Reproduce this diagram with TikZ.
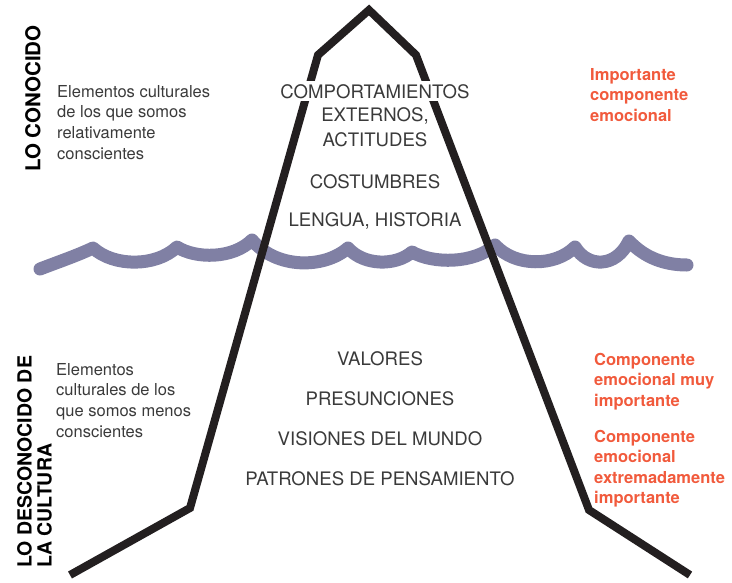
\documentclass[tikz,border=0pt]{standalone}
\usepackage{fontspec}
\setmainfont{TeX Gyre Heros}
\usepackage[svgnames]{xcolor}
\usepackage{tikz}
\usetikzlibrary{positioning}
\definecolor{Hielo}{HTML}{231F20}
\definecolor{Agua}{HTML}{8080A4}
\definecolor{Emocion}{HTML}{F15A3C}
\definecolor{Texto}{HTML}{3A3A3A}

\begin{document}
\begin{tikzpicture}[line join=miter,x=1pt,y=-1pt,
  capa/.style={text=Texto,font=\fontsize{18.6}{24.5}\selectfont,align=center,inner sep=0pt},
  nota/.style={text=Texto,font=\fontsize{16.5}{20.7}\selectfont,align=left,anchor=north west,inner sep=0pt},
  emocion/.style={text=Emocion,font=\bfseries\fontsize{16.5}{20.5}\selectfont,align=left,anchor=north west,inner sep=0pt},
  zona/.style={text=black,font=\bfseries\fontsize{19.5}{20}\selectfont,align=left,rotate=90,anchor=north west,inner sep=0pt}]
\useasboundingbox (0,0) rectangle (732,582);
% agua
\draw [line width=13pt,line cap=round,line join=round,color=Agua] (40,269)
  .. controls (58,262) and (76,256) .. (93,248)
  .. controls (114,267) and (156,267) .. (177,247)
  .. controls (196,259) and (233,259) .. (252,240)
  .. controls (276,269) and (324,269) .. (348,248)
  .. controls (364,266) and (396,266) .. (412,252)
  .. controls (433,264) and (474,264) .. (495,245)
  .. controls (515,267) and (555,267) .. (575,247)
  .. controls (588,268) and (616,268) .. (629,241)
  .. controls (645,258) and (665,265) .. (687,265);
% iceberg
\draw [line width=8pt,color=Hielo] (70,575) -- (190,508) -- (318,55) -- (369,10) -- (416,55) -- (589,510) -- (690,575);
% lo conocido
\node[capa,fill=white,inner sep=3pt,anchor=base] (comport) at (375,98) {COMPORTAMIENTOS};
\node[capa,anchor=base] (externos) at (375,146) {EXTERNOS,\\ACTITUDES};
\node[capa,anchor=base] (costumbres) at (375,188) {COSTUMBRES};
\node[capa,anchor=base] (lengua) at (375,226) {LENGUA, HISTORIA};
% lo desconocido
\node[capa,anchor=base] (valores) at (380,365) {VALORES};
\node[capa,anchor=base] (presunc) at (380,405) {PRESUNCIONES};
\node[capa,anchor=base] (visiones) at (380,445) {VISIONES DEL MUNDO};
\node[capa,anchor=base] (patrones) at (380,485) {PATRONES DE PENSAMIENTO};
% notas
\node[nota] (notaarriba) at (57,85) {Elementos culturales\\de los que somos\\relativamente\\conscientes};
\node[nota] (notaabajo) at (56,363) {Elementos\\culturales de los\\que somos menos\\conscientes};
\node[emocion] (emoc1) at (590,68) {Importante\\componente\\emocional};
\node[emocion] (emoc2) at (594,353) {Componente\\emocional muy\\importante};
\node[emocion] (emoc3) at (594,430) {Componente\\emocional\\extremadamente\\importante};
% zonas
\node[zona,font=\bfseries\fontsize{20.5}{20}\selectfont] (conocido) at (25,172) {LO CONOCIDO};
\node[zona] (desconocido) at (17,568) {LO DESCONOCIDO DE\\LA CULTURA};
\end{tikzpicture}
\end{document}
